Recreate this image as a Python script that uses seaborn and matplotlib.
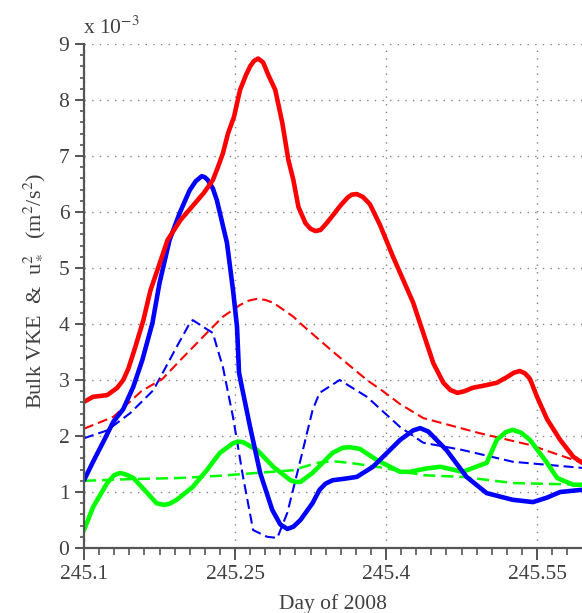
import numpy as np
import pandas as pd
import matplotlib
matplotlib.use("Agg")
import matplotlib.pyplot as plt
from matplotlib.ticker import MultipleLocator
import seaborn as sns

# Bulk VKE and friction-velocity squared time series (units of 1e-3 m^2/s^2)
red_day = [245.100, 245.109, 245.123, 245.133, 245.139, 245.144, 245.151, 245.159,
           245.166, 245.174, 245.183, 245.196, 245.209, 245.219, 245.228, 245.233,
           245.238, 245.243, 245.249, 245.255, 245.261, 245.265, 245.269, 245.273,
           245.278, 245.283, 245.290, 245.297, 245.303, 245.308, 245.313, 245.320,
           245.325, 245.330, 245.335, 245.341, 245.348, 245.355, 245.362, 245.366,
           245.371, 245.377, 245.384, 245.394, 245.407, 245.427, 245.437, 245.447,
           245.457, 245.464, 245.471, 245.478, 245.486, 245.500, 245.510, 245.520,
           245.527, 245.533, 245.538, 245.543, 245.550, 245.560, 245.573, 245.586,
           245.595]
red_vke = [2.61, 2.70, 2.73, 2.86, 3.00, 3.20, 3.59, 4.07,
           4.60, 5.02, 5.50, 5.86, 6.13, 6.34, 6.57, 6.80,
           7.05, 7.40, 7.70, 8.18, 8.45, 8.60, 8.70, 8.74,
           8.67, 8.45, 8.18, 7.59, 6.93, 6.57, 6.09, 5.80,
           5.70, 5.66, 5.68, 5.80, 5.96, 6.12, 6.26, 6.31,
           6.32, 6.27, 6.14, 5.77, 5.20, 4.38, 3.84, 3.30,
           2.95, 2.82, 2.77, 2.80, 2.86, 2.91, 2.95, 3.05,
           3.13, 3.16, 3.12, 3.02, 2.70, 2.30, 1.93, 1.63,
           1.52]

red_ustar_day = [245.100, 245.129, 245.157, 245.178, 245.196, 245.222, 245.238, 245.255,
                 245.264, 245.272, 245.280, 245.288, 245.308, 245.315, 245.347, 245.381,
                 245.397, 245.414, 245.437, 245.493, 245.543, 245.595]
red_ustar = [2.13, 2.34, 2.80, 3.02, 3.36, 3.84, 4.13, 4.34,
             4.42, 4.45, 4.43, 4.38, 4.13, 4.01, 3.51, 3.00,
             2.80, 2.57, 2.32, 2.05, 1.84, 1.52]

blue_day = [245.100, 245.109, 245.119, 245.129, 245.139, 245.149, 245.158, 245.168,
            245.175, 245.185, 245.195, 245.205, 245.211, 245.217, 245.220, 245.223,
            245.228, 245.232, 245.242, 245.248, 245.252, 245.254, 245.257, 245.265,
            245.275, 245.287, 245.295, 245.302, 245.308, 245.315, 245.327, 245.334,
            245.340, 245.347, 245.360, 245.371, 245.387, 245.414, 245.427, 245.434,
            245.442, 245.460, 245.480, 245.500, 245.526, 245.546, 245.560, 245.573,
            245.595]
blue_vke = [1.21, 1.54, 1.89, 2.25, 2.48, 2.88, 3.36, 4.02,
            4.73, 5.50, 5.98, 6.39, 6.55, 6.64, 6.62, 6.57,
            6.42, 6.21, 5.45, 4.61, 3.95, 3.13, 2.86, 2.16,
            1.34, 0.68, 0.42, 0.34, 0.38, 0.50, 0.80, 1.04,
            1.15, 1.21, 1.24, 1.27, 1.45, 1.93, 2.10, 2.14,
            2.08, 1.75, 1.27, 0.98, 0.86, 0.82, 0.90, 1.00,
            1.04]

blue_ustar_day = [245.100, 245.123, 245.146, 245.169, 245.192, 245.204, 245.208, 245.214,
                  245.220, 245.228, 245.232, 245.238, 245.248, 245.258, 245.268, 245.282,
                  245.292, 245.302, 245.315, 245.327, 245.334, 245.354, 245.381, 245.414,
                  245.437, 245.476, 245.526, 245.595]
blue_ustar = [1.96, 2.10, 2.41, 2.82, 3.59, 3.98, 4.07, 4.00,
              3.93, 3.84, 3.59, 3.23, 2.34, 1.27, 0.32, 0.20,
              0.18, 0.63, 1.57, 2.46, 2.77, 3.00, 2.70, 2.16,
              1.88, 1.75, 1.54, 1.43]

green_day = [245.100, 245.109, 245.123, 245.130, 245.136, 245.142, 245.149, 245.163,
             245.172, 245.179, 245.185, 245.192, 245.208, 245.222, 245.235, 245.248,
             245.253, 245.258, 245.272, 245.288, 245.305, 245.310, 245.315, 245.327,
             245.347, 245.357, 245.364, 245.374, 245.391, 245.414, 245.424, 245.440,
             245.454, 245.476, 245.500, 245.510, 245.519, 245.526, 245.534, 245.543,
             245.560, 245.570, 245.586, 245.595]
green_vke = [0.32, 0.73, 1.16, 1.30, 1.34, 1.31, 1.25, 0.98,
             0.80, 0.77, 0.79, 0.86, 1.09, 1.39, 1.70, 1.87,
             1.90, 1.89, 1.75, 1.45, 1.21, 1.18, 1.18, 1.34,
             1.70, 1.79, 1.80, 1.77, 1.57, 1.36, 1.36, 1.42,
             1.45, 1.36, 1.52, 1.93, 2.07, 2.11, 2.06, 1.93,
             1.52, 1.25, 1.13, 1.13]

green_ustar_day = [245.100, 245.146, 245.195, 245.235, 245.308, 245.331, 245.347, 245.364,
                   245.391, 245.437, 245.476, 245.526, 245.595]
green_ustar = [1.20, 1.23, 1.25, 1.29, 1.39, 1.52, 1.55, 1.52,
               1.45, 1.30, 1.27, 1.16, 1.13]

x_ticks = [245.1, 245.25, 245.4, 245.55]
x_tick_labels = ["245.1", "245.25", "245.4", "245.55"]
y_ticks = list(range(0, 10))

sns.set_style("ticks")
plt.rcParams["font.family"] = ["Liberation Serif", "DejaVu Serif"]
plt.rcParams["mathtext.fontset"] = "stix"

text_color = "#404040"
axis_color = "#555555"

fig = plt.figure(figsize=(5.82, 6.13), dpi=100)
ax = fig.add_axes([84 / 582, 1 - 548 / 613, (582 - 84) / 582, (548 - 44) / 613])

dash = (0, (4.8, 2.4))
sns.lineplot(x=green_ustar_day, y=green_ustar, ax=ax, color="#00ff00", linewidth=1.8, linestyle=dash)
sns.lineplot(x=blue_ustar_day, y=blue_ustar, ax=ax, color="#0000ff", linewidth=1.5, linestyle=dash)
sns.lineplot(x=red_ustar_day, y=red_ustar, ax=ax, color="#ff0000", linewidth=1.5, linestyle=dash)
sns.lineplot(x=green_day, y=green_vke, ax=ax, color="#00ff00", linewidth=3.3)
sns.lineplot(x=blue_day, y=blue_vke, ax=ax, color="#0000ff", linewidth=3.3)
sns.lineplot(x=red_day, y=red_vke, ax=ax, color="#ff0000", linewidth=3.3)
for line in ax.get_lines():
    line.set_solid_joinstyle("round")
    line.set_solid_capstyle("round")
    line.set_dash_joinstyle("round")

ax.set_xlim(245.1, 245.1 + (582 - 84) / 1006.7)
ax.set_ylim(0, 9)
ax.set_xticks(x_ticks)
ax.set_xticklabels(x_tick_labels)
ax.set_yticks(y_ticks)
ax.xaxis.set_minor_locator(MultipleLocator(0.015))
ax.yaxis.set_minor_locator(MultipleLocator(0.2))

ax.grid(True, which="major", linestyle=(0, (1, 4.5)), color="#808080", linewidth=1.0)
ax.set_axisbelow(True)

for side in ("top", "right"):
    ax.spines[side].set_visible(False)
for side in ("left", "bottom"):
    ax.spines[side].set_color(axis_color)
    ax.spines[side].set_linewidth(1.6)

ax.tick_params(axis="x", which="major", direction="out", length=8.5, width=1.4,
               color=axis_color, labelsize=15.5, labelcolor=text_color, pad=4)
ax.tick_params(axis="x", which="minor", direction="out", length=5, width=1.2, color=axis_color)
ax.tick_params(axis="y", which="major", direction="out", length=6.5, width=1.4,
               color=axis_color, labelsize=15.5, labelcolor=text_color, pad=4)
ax.tick_params(axis="y", which="minor", direction="out", length=3, width=1.2, color=axis_color)

ax.set_xlabel("Day of 2008", fontsize=15.5, color=text_color)
ax.xaxis.set_label_coords(0.5, -0.092)
ax.set_ylabel("Bulk VKE  &  u$_*^2$  (m$^2$/s$^2$)", fontsize=16, color=text_color)
ax.yaxis.set_label_coords(-0.075, 0.51)

fig.text(83 / 582, 1 - 34 / 613, "x 10$^{-3}$", fontsize=15.5, color=text_color,
         ha="left", va="baseline")

fig.savefig("out.png", dpi=100)
